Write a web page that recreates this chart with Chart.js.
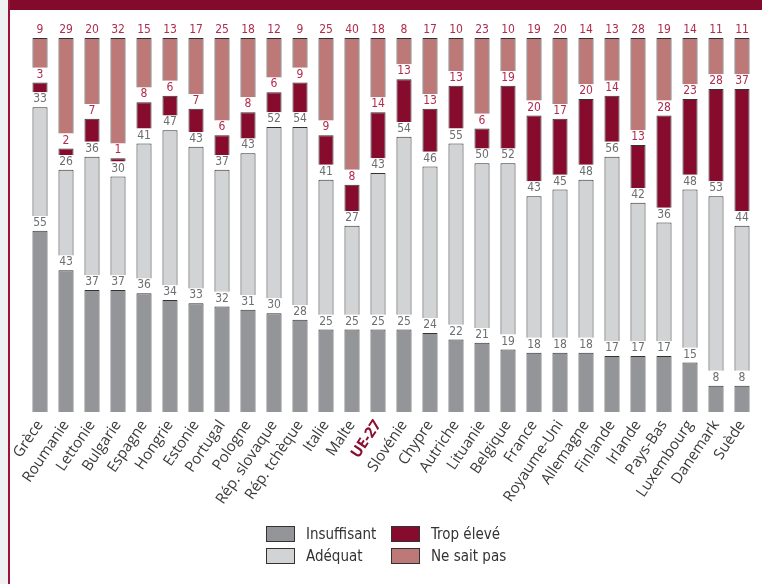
<!DOCTYPE html>
<html lang="fr">
<head>
<meta charset="utf-8">
<script src="https://cdn.jsdelivr.net/npm/chart.js@4.4.1/dist/chart.umd.min.js"></script>
<style>
    html, body { margin:0; padding:0; background:#f0f1f3; }
    body { width:762px; height:584px; position:relative; overflow:hidden;
           font-family:'Liberation Sans Narrow','DejaVu Sans Condensed','Open Sans',sans-serif; }
    #frame { position:absolute; left:8px; top:0; right:0; bottom:0; background:#fff; border-left:2px solid #9c1238; }
    #titlebar { position:absolute; left:0; top:0; right:0; height:10px; background:#840a2c; }
    #wrap { position:absolute; left:0; top:10px; width:752px; height:522px; }
    #legend { position:absolute; left:266px; top:526px; display:grid;
              grid-template-columns:125px auto; row-gap:6px; font-size:15px; color:#333; }
    #legend .item { display:flex; align-items:center; height:16px; }
    #legend .box { width:27px; height:14px; border:1px solid #333; margin-right:11px; }
</style>
</head>
<body>
<div id="frame">
    <div id="titlebar"></div>
    <div id="wrap"><canvas id="chart"></canvas></div>
</div>
<div id="legend"></div>

<script>
// --- Données (%) ---
const countries = ['Grèce','Roumanie','Lettonie','Bulgarie','Espagne','Hongrie','Estonie','Portugal','Pologne',
    'Rép. slovaque','Rép. tchèque','Italie','Malte','UE-27','Slovénie','Chypre','Autriche','Lituanie','Belgique',
    'France','Royaume-Uni','Allemagne','Finlande','Irlande','Pays-Bas','Luxembourg','Danemark','Suède'];
const insuffisant = [55,43,37,37,36,34,33,32,31,30,28,25,25,25,25,24,22,21,19,18,18,18,17,17,17,15,8,8];
const adequat     = [33,26,36,30,41,47,43,37,43,52,54,41,27,43,54,46,55,50,52,43,45,48,56,42,36,48,53,44];
const tropEleve   = [3,2,7,1,8,6,7,6,8,6,9,9,8,14,13,13,13,6,19,20,17,20,14,13,28,23,28,37];
const neSaitPas   = [9,29,20,32,15,13,17,25,18,12,9,25,40,18,8,17,10,23,10,19,20,14,13,28,19,14,11,11];

const GAP = 4.5; // espace (en points de %) entre les segments, pour les étiquettes

const COL_INS = '#939598', COL_ADQ = '#d1d3d4', COL_TROP = '#870b2c', COL_NSP = '#bd7878';
const TXT_GRAY = '#6d6e70', TXT_RED = '#b02c4e';
const FONT = "'Liberation Sans Narrow','DejaVu Sans Condensed','Open Sans',sans-serif";

function seg(label, data, color, txt) {
    return { label, data, backgroundColor: color, borderColor: '#333', borderWidth: 1,
             barPercentage: 0.58, categoryPercentage: 1, txtColor: txt, isSeg: true };
}
function spacer() {
    return { label: '', data: countries.map(() => GAP), backgroundColor: 'rgba(0,0,0,0)',
             borderWidth: 0, barPercentage: 0.58, categoryPercentage: 1, isSeg: false };
}

const datasets = [
    seg('Insuffisant', insuffisant, COL_INS, TXT_GRAY), spacer(),
    seg('Adéquat', adequat, COL_ADQ, TXT_GRAY), spacer(),
    seg('Trop élevé', tropEleve, COL_TROP, TXT_RED), spacer(),
    seg('Ne sait pas', neSaitPas, COL_NSP, TXT_RED)
];

// étiquettes au-dessus de chaque segment
const valueLabels = {
    id: 'valueLabels',
    afterDatasetsDraw(chart) {
        const ctx = chart.ctx;
        ctx.save();
        ctx.font = '12px ' + FONT;
        ctx.textAlign = 'center';
        ctx.textBaseline = 'bottom';
        chart.data.datasets.forEach((ds, i) => {
            if (!ds.isSeg) return;
            chart.getDatasetMeta(i).data.forEach((bar, j) => {
                ctx.fillStyle = ds.txtColor;
                ctx.fillText(ds.data[j], bar.x, bar.y - 2);
            });
        });
        ctx.restore();
    }
};

const chart = new Chart(document.getElementById('chart'), {
    type: 'bar',
    data: { labels: countries, datasets },
    options: {
        responsive: true,
        maintainAspectRatio: false,
        animation: false,
        layout: { padding: { top: 28, left: 17, right: 4, bottom: 0 } },
        plugins: { legend: { display: false }, tooltip: { enabled: false } },
        scales: {
            x: {
                stacked: true,
                grid: { display: false, drawTicks: false },
                border: { display: false },
                afterFit: s => { s.height = 120; },
                ticks: {
                    autoSkip: false, minRotation: 56, maxRotation: 56, padding: 5,
                    color: c => c.tick && c.tick.label === 'UE-27' ? '#8a0e30' : '#3a3a3a',
                    font: c => ({ family: "'Open Sans',sans-serif", size: 15,
                                  weight: c.tick && c.tick.label === 'UE-27' ? 'bold' : 'normal' })
                }
            },
            y: { stacked: true, display: false, min: 0, max: 100 + 3 * GAP }
        }
    },
    plugins: [valueLabels]
});

// légende HTML (2 x 2)
const legendOrder = ['Insuffisant', 'Trop élevé', 'Adéquat', 'Ne sait pas'];
document.getElementById('legend').innerHTML = legendOrder.map(name => {
    const ds = datasets.find(d => d.label === name);
    return `<div class="item"><span class="box" style="background:${ds.backgroundColor}"></span>${name}</div>`;
}).join('');
</script>
</body>
</html>
